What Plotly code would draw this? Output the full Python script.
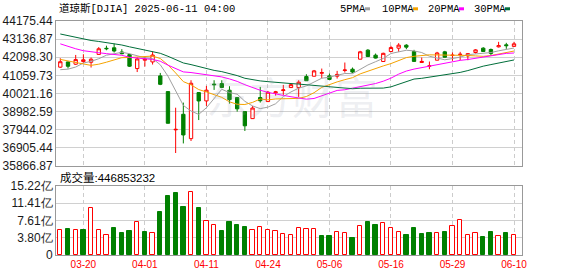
import plotly.graph_objects as go

# ---------------- data ----------------
dates = ["03-17", "03-18", "03-19", "03-20", "03-21", "03-24", "03-25", "03-26", "03-27", "03-28",
         "03-31", "04-01", "04-02", "04-03", "04-04", "04-07", "04-08", "04-09", "04-10", "04-11",
         "04-14", "04-15", "04-16", "04-17", "04-21", "04-22", "04-23", "04-24", "04-25", "04-28",
         "04-29", "04-30", "05-01", "05-02", "05-05", "05-06", "05-07", "05-08", "05-09", "05-12",
         "05-13", "05-14", "05-15", "05-16", "05-19", "05-20", "05-21", "05-22", "05-23", "05-27",
         "05-28", "05-29", "05-30", "06-02", "06-03", "06-04", "06-05", "06-06", "06-09", "06-10"]

opens = [41530, 41830, 41700, 41850, 41810, 42260, 42612, 42640, 42400, 42250,
         41450, 41930, 41830, 41030, 40131, 37940, 38830, 37434, 40074, 39596,
         40560, 40590, 40208, 39787, 38984, 38582, 39790, 39558, 40060, 40190,
         40361, 40361, 40992, 41011, 41180, 41030, 41011, 41340, 41413, 41987,
         42504, 42217, 41853, 42427, 42618, 42790, 42427, 41796, 41590, 41930,
         42408, 42200, 42250, 42178, 42370, 42618, 42542, 42695, 42810, 42720]
highs = [42040, 41850, 42230, 42270, 42080, 42680, 42760, 42880, 42560, 42300,
         42100, 42140, 42430, 41200, 40140, 39207, 39500, 40782, 40100, 40457,
         40782, 40782, 40438, 39800, 38990, 39309, 40400, 40170, 40170, 40514,
         40590, 40782, 41126, 41370, 41451, 41164, 41317, 41796, 41509, 42465,
         42561, 42312, 42360, 42752, 42905, 42848, 42523, 42083, 41853, 42408,
         42465, 42370, 42408, 42332, 42561, 42676, 42600, 42982, 42924, 42982]
lows = [41490, 41450, 41660, 41780, 41510, 42250, 42500, 42370, 42270, 41540,
        41250, 41566, 41680, 40500, 38299, 36611, 37160, 37300, 38500, 39309,
        40227, 40330, 39443, 38984, 37874, 38560, 39500, 39540, 39900, 39940,
        40340, 39825, 40744, 41000, 40896, 40801, 40877, 41222, 41183, 41980,
        42130, 42025, 41830, 42389, 42408, 42561, 41834, 41790, 41413, 41920,
        42083, 41891, 41930, 41930, 42312, 42420, 42217, 42657, 42580, 42700]
closes = [41841.63, 41581.31, 41964.63, 41953.32, 41985.35, 42583.32, 42587.50, 42454.79, 42299.70, 41583.90,
          42001.76, 41989.96, 42225.32, 40545.93, 38314.86, 37965.60, 37645.59, 40608.45, 39593.66, 40212.71,
          40524.79, 40368.96, 39669.39, 39142.23, 38170.41, 39186.98, 39606.57, 40093.40, 40113.50, 40227.59,
          40527.62, 40669.36, 40752.96, 41317.43, 41218.83, 40829.00, 41113.97, 41368.45, 41249.38, 42410.10,
          42140.43, 42051.06, 42322.75, 42654.74, 42792.07, 42677.24, 41860.44, 41859.09, 41603.07, 42343.65,
          42098.70, 42215.73, 42270.07, 42305.48, 42519.64, 42427.74, 42319.74, 42762.87, 42761.76, 42866.87]
prev_close = 41488.19  # close of the day before the first bar (sets first volume colour)

volumes = [5.47, 5.69, 5.62, 5.47, 10.3, 5.47, 4.31, 5.91, 4.89, 5.26,
           7.23, 5.04, 4.82, 9.42, 13.0, 13.6, 10.5, 13.9, 10.3, 7.45,
           6.57, 5.26, 7.23, 6.57, 6.13, 5.62, 6.28, 5.47, 5.40, 4.60,
           4.31, 6.06, 5.84, 5.84, 4.16, 4.16, 5.18, 4.96, 3.72, 6.50,
           7.23, 6.57, 7.15, 6.06, 5.18, 4.31, 5.91, 4.60, 4.82, 4.96,
           5.04, 6.50, 7.81, 4.31, 4.96, 3.94, 5.18, 4.09, 4.82, 4.4685]

ma5 = [41386, 41415, 41538, 41766, 41865, 42014, 42215, 42313, 42382, 42302,
       42186, 42066, 42020, 41669, 41016, 40208, 39339, 39015, 38825, 39205,
       39716, 40261, 40073, 39983, 39575, 39307, 39155, 39240, 39434, 39845,
       40113, 40326, 40458, 40699, 40897, 40957, 41046, 41169, 41156, 41394,
       41656, 41844, 42034, 42315, 42392, 42499, 42461, 42368, 42158, 42068,
       41953, 42024, 42106, 42246, 42281, 42347, 42368, 42466, 42558, 42627]
ma10 = [41975, 41881, 41777, 41714, 41633, 41700, 41815, 41926, 42074, 42084,
        42100, 42141, 42167, 42026, 41659, 41197, 40703, 40518, 40247, 40111,
        39962, 39800, 39544, 39404, 39390, 39512, 39708, 39657, 39709, 39710,
        39710, 39741, 39849, 40067, 40371, 40535, 40686, 40814, 40928, 41146,
        41307, 41445, 41602, 41736, 41893, 42078, 42153, 42201, 42237, 42230,
        42226, 42243, 42237, 42202, 42175, 42150, 42196, 42286, 42402, 42454]
ma20 = [42866, 42718, 42585, 42473, 42402, 42358, 42306, 42257, 42210, 42097,
        42038, 42011, 41972, 41870, 41646, 41449, 41259, 41222, 41161, 41098,
        41031, 40971, 40856, 40715, 40525, 40355, 40206, 40088, 39978, 39911,
        39836, 39771, 39697, 39736, 39881, 40024, 40197, 40236, 40319, 40428,
        40509, 40593, 40726, 40902, 41132, 41307, 41420, 41508, 41583, 41688,
        41767, 41844, 41920, 41969, 42034, 42114, 42175, 42244, 42320, 42342]
ma30 = [43431, 43336, 43250, 43152, 43060, 43003, 42940, 42869, 42800, 42696,
        42611, 42525, 42445, 42324, 42154, 41971, 41771, 41677, 41555, 41435,
        41346, 41274, 41163, 41048, 40894, 40803, 40742, 40700, 40677, 40635,
        40591, 40561, 40520, 40499, 40473, 40415, 40366, 40330, 40295, 40322,
        40326, 40329, 40332, 40402, 40551, 40708, 40849, 40891, 40958, 41029,
        41081, 41143, 41229, 41335, 41480, 41588, 41678, 41767, 41856, 41943]

price_ticks = [35866.87, 36905.44, 37944.02, 38982.59, 40021.16, 41059.73, 42098.30, 43136.87, 44175.44]
price_tick_text = ["35866.87", "36905.44", "37944.02", "38982.59", "40021.16", "41059.73", "42098.30", "43136.87", "44175.44"]
vol_ticks = [0, 3.805, 7.61, 11.415, 15.22]
vol_tick_text = ["0", "3.80亿", "7.61亿", "11.41亿", "15.22亿"]
date_tick_pos = [3, 11, 19, 27, 35, 43, 51, 59]

title_text = "道琼斯[DJIA] 2025-06-11 04:00"
volume_label = "成交量:446853232"
ma_names = ["5PMA", "10PMA", "20PMA", "30PMA"]
ma_colors = ["#a0a0a0", "#f5a300", "#ff00ff", "#006e3a"]

# ---------------- layout helpers ----------------
W, H = 578, 276
L, R, T, B = 56, 56, 21, 21
PW, PH = W - L - R, H - T - B


def px_x(px):
    return (px - L) / PW


def px_y(py):
    return (H - B - py) / PH


MAIN_TOP, MAIN_BOT = 21, 166
VOL_TOP, VOL_BOT = 186, 255

UP, DN = "#ff0000", "#008000"
idx = list(range(len(dates)))

vol_fill, vol_line = [], []
pc = prev_close
for c in closes:
    if c >= pc:
        vol_fill.append("#ffffff")
        vol_line.append(UP)
    else:
        vol_fill.append(DN)
        vol_line.append(DN)
    pc = c

fig = go.Figure()
fig.add_trace(go.Candlestick(
    x=idx, open=opens, high=highs, low=lows, close=closes,
    xaxis="x", yaxis="y", whiskerwidth=0, hoverinfo="skip",
    increasing=dict(line=dict(color=UP, width=1), fillcolor="#ffffff"),
    decreasing=dict(line=dict(color=DN, width=1), fillcolor=DN),
))
for vals, col in zip([ma5, ma10, ma20, ma30], ma_colors):
    fig.add_trace(go.Scatter(x=idx, y=vals, mode="lines", xaxis="x", yaxis="y",
                             line=dict(color=col, width=1), hoverinfo="skip"))
fig.add_trace(go.Bar(x=idx, y=volumes, xaxis="x2", yaxis="y2", width=0.56,
                     marker=dict(color=vol_fill, line=dict(color=vol_line, width=1)),
                     hoverinfo="skip"))

xrange = [-0.56, 60.04]
common_x = dict(range=xrange, tickvals=date_tick_pos, showgrid=True, gridcolor="#cccccc",
                griddash="4px,3px", gridwidth=1, showline=True, mirror=True, linecolor="#999999",
                linewidth=1, zeroline=False, ticks="", fixedrange=True, automargin=False)
common_y = dict(showgrid=True, gridcolor="#d0d0d0", gridwidth=1, showline=True, mirror=True,
                linecolor="#999999", linewidth=1, zeroline=False, ticks="", automargin=False,
                tickfont=dict(family="Liberation Sans", size=12, color="#1a1a1a"))

ann = []
ann.append(dict(text=title_text, xref="paper", yref="paper", x=px_x(57), y=px_y(8.5),
                xanchor="left", yanchor="middle", showarrow=False,
                font=dict(family="Liberation Mono, Noto Sans CJK SC", size=10.5, color="#000000")))
ann.append(dict(text=volume_label, xref="paper", yref="paper", x=px_x(57.5), y=px_y(177),
                xanchor="left", yanchor="middle", showarrow=False,
                font=dict(family="Liberation Sans, Noto Sans CJK SC", size=11.5, color="#000000")))
ann.append(dict(text="东方财富", xref="paper", yref="paper", x=px_x(292), y=px_y(95),
                xanchor="center", yanchor="middle", showarrow=False,
                font=dict(family="Noto Sans CJK SC", size=43, color="rgba(150,155,175,0.17)")))

legend_x = [338, 380, 426, 472]
square_x = [365, 413, 459, 505]
shapes = []
for name, col, lx, sx in zip(ma_names, ma_colors, legend_x, square_x):
    ann.append(dict(text=name, xref="paper", yref="paper", x=px_x(lx), y=px_y(8.8),
                    xanchor="left", yanchor="middle", showarrow=False,
                    font=dict(family="Liberation Mono", size=10.5, color="#000000")))
    shapes.append(dict(type="rect", xref="paper", yref="paper", x0=px_x(sx), x1=px_x(sx + 5),
                       y0=px_y(10.3), y1=px_y(7.3), fillcolor=col, line=dict(width=0)))

fig.update_layout(
    width=W, height=H, margin=dict(l=L, r=R, t=T, b=B, pad=0, autoexpand=False),
    paper_bgcolor="#ffffff", plot_bgcolor="#ffffff", showlegend=False,
    boxgap=0.38, bargap=0,
    xaxis=dict(common_x, domain=[0, 1], anchor="y", showticklabels=False,
               rangeslider=dict(visible=False)),
    xaxis2=dict(common_x, domain=[0, 1], anchor="y2", matches="x", showticklabels=True,
                ticktext=[dates[i] for i in date_tick_pos],
                tickfont=dict(family="Liberation Sans", size=10, color="#ff0000")),
    yaxis=dict(common_y, domain=[px_y(MAIN_BOT), px_y(MAIN_TOP)], anchor="x",
               range=[price_ticks[0], price_ticks[-1]], tickvals=price_ticks, ticktext=price_tick_text),
    yaxis2=dict(common_y, domain=[px_y(VOL_BOT), px_y(VOL_TOP)], anchor="x2",
                range=[vol_ticks[0], vol_ticks[-1]], tickvals=vol_ticks, ticktext=vol_tick_text),
    annotations=ann, shapes=shapes,
)

fig.write_html("out.html")
